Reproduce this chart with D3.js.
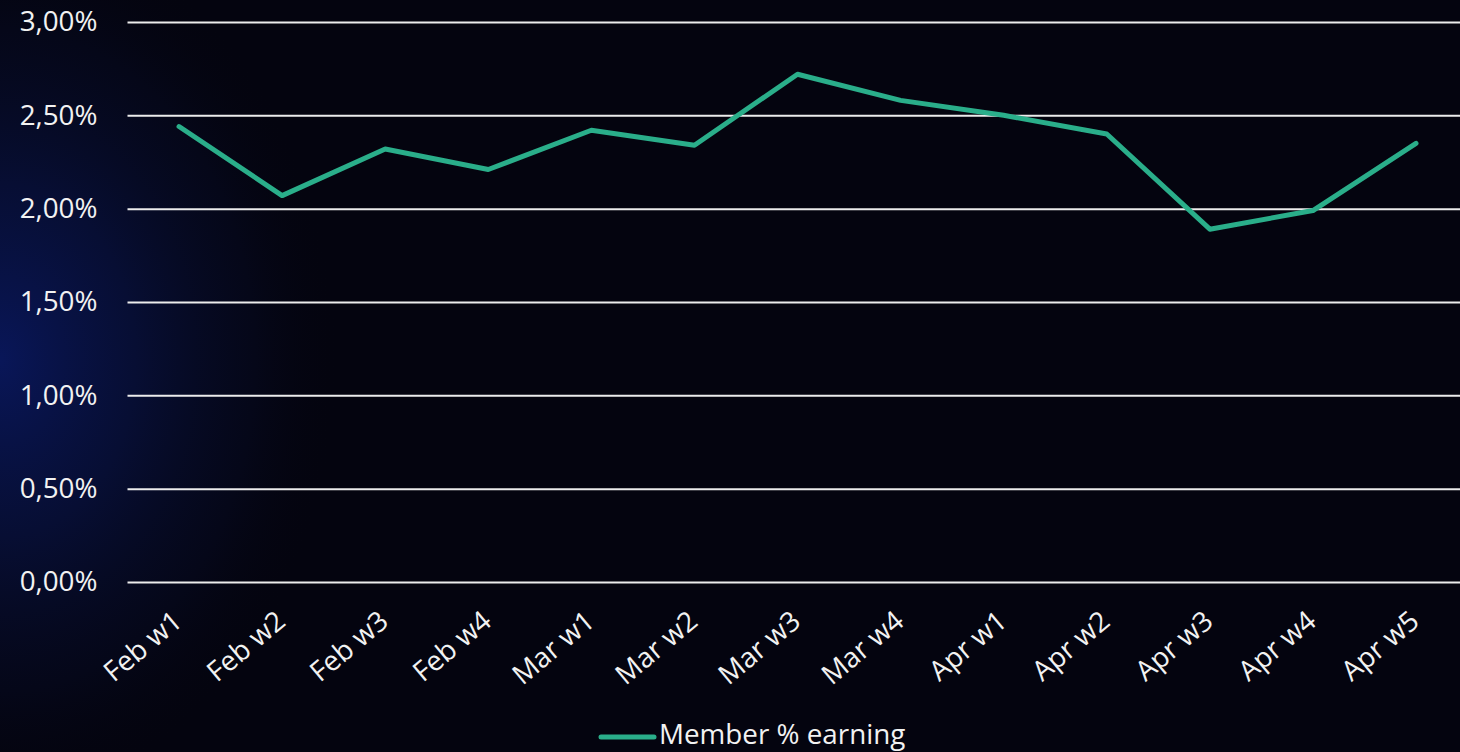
<!DOCTYPE html>
<html>
<head>
<meta charset="utf-8">
<script src="https://cdn.jsdelivr.net/npm/d3@7/dist/d3.min.js"></script>
<style>
  html, body { margin: 0; padding: 0; background: #04040f; overflow: hidden; }
  svg { display: block; }
</style>
</head>
<body>
<div id="chart"></div>
<script>
const width = 1460;
const height = 752;

// data
const weeks = ['Feb w1', 'Feb w2', 'Feb w3', 'Feb w4', 'Mar w1', 'Mar w2', 'Mar w3',
               'Mar w4', 'Apr w1', 'Apr w2', 'Apr w3', 'Apr w4', 'Apr w5'];
const earning = [2.44, 2.07, 2.32, 2.21, 2.42, 2.34, 2.72, 2.58, 2.50, 2.40, 1.89, 1.99, 2.35];
const yTicks = [0, 0.5, 1, 1.5, 2, 2.5, 3];
const seriesName = 'Member % earning';

const lineColor = '#2aae8a';
const textColor = '#f2f2f2';
const font = '"Open Sans", "Segoe UI", sans-serif';
const fontSize = '27.8px';

const svg = d3.select('#chart').append('svg')
    .attr('width', width)
    .attr('height', height);

// background with the blue glow on the left
const defs = svg.append('defs');
const glow = defs.append('radialGradient')
    .attr('id', 'glow')
    .attr('cx', 0).attr('cy', 360).attr('r', 340)
    .attr('gradientUnits', 'userSpaceOnUse')
    .attr('gradientTransform', 'translate(0,360) scale(1,1.3) translate(0,-360)');
glow.append('stop').attr('offset', '0%').attr('stop-color', '#0b1e78').attr('stop-opacity', 0.7);
glow.append('stop').attr('offset', '40%').attr('stop-color', '#0a1858').attr('stop-opacity', 0.5);
glow.append('stop').attr('offset', '75%').attr('stop-color', '#081036').attr('stop-opacity', 0.25);
glow.append('stop').attr('offset', '100%').attr('stop-color', '#04040f').attr('stop-opacity', 0);

svg.append('rect').attr('width', width).attr('height', height).attr('fill', '#04040f');
svg.append('rect').attr('width', width).attr('height', height).attr('fill', 'url(#glow)');

const x = d3.scaleBand()
    .domain(weeks)
    .range([127.5, 127.5 + 13 * 103.08]);

const y = d3.scaleLinear()
    .domain([0, 3])
    .range([582, 22]);

const fmt = v => d3.format('.2f')(v).replace('.', ',') + '%';

// gridlines + y labels
const yAxis = svg.append('g')
    .attr('transform', `translate(${x.range()[0]},0)`)
    .call(d3.axisLeft(y)
        .tickValues(yTicks)
        .tickSize(-(x.range()[1] - x.range()[0]))
        .tickPadding(30)
        .tickFormat(fmt));
yAxis.select('.domain').remove();
yAxis.selectAll('.tick line')
    .attr('stroke', '#ececec')
    .attr('stroke-width', 2);
yAxis.selectAll('.tick text')
    .attr('fill', textColor)
    .style('font-family', font)
    .style('font-size', fontSize);

// x labels, rotated
const xAxis = svg.append('g')
    .attr('transform', 'translate(0,582)')
    .call(d3.axisBottom(x).tickSize(0).tickPadding(0));
xAxis.select('.domain').remove();
xAxis.selectAll('.tick text')
    .attr('fill', textColor)
    .style('font-family', font)
    .style('font-size', fontSize)
    .attr('text-anchor', 'end')
    .attr('dy', 0)
    .attr('y', 0)
    .attr('transform', 'translate(5,42) rotate(-40)');

// the series
const line = d3.line()
    .x((d, i) => x(weeks[i]) + x.bandwidth() / 2)
    .y(d => y(d));

svg.append('path')
    .datum(earning)
    .attr('d', line)
    .attr('fill', 'none')
    .attr('stroke', lineColor)
    .attr('stroke-width', 5)
    .attr('stroke-linejoin', 'round')
    .attr('stroke-linecap', 'round');

// legend
const legend = svg.append('g').attr('transform', 'translate(601,737)');
legend.append('line')
    .attr('x1', 0).attr('x2', 53)
    .attr('stroke', lineColor)
    .attr('stroke-width', 5)
    .attr('stroke-linecap', 'round');
legend.append('text')
    .attr('x', 58)
    .attr('y', 7)
    .attr('fill', textColor)
    .style('font-family', font)
    .style('font-size', fontSize)
    .text(seriesName);
</script>
</body>
</html>
